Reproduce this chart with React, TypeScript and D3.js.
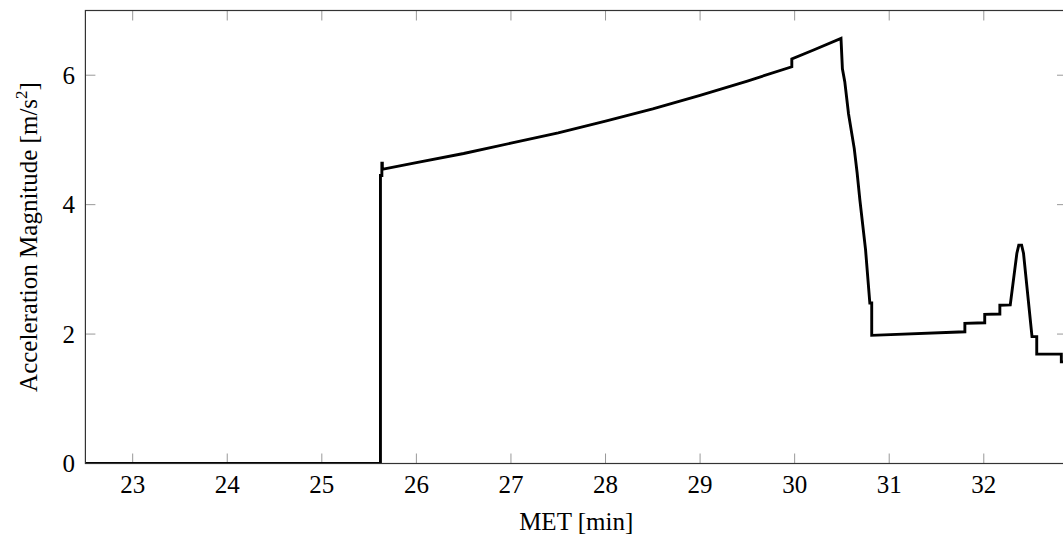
import React from "react";
import * as d3 from "d3";

const xTicks = [23, 24, 25, 26, 27, 28, 29, 30, 31, 32];
const yTicks = [0, 2, 4, 6];

// MET [min]
const met = [
  22.5, 25.62, 25.62, 25.635, 25.635, 25.64, 25.64,
  25.65, 26.0, 26.5, 27.0, 27.5, 28.0, 28.5, 29.0, 29.5, 29.97,
  29.97, 30.2, 30.49,
  30.505, 30.53, 30.57, 30.63, 30.66, 30.69, 30.75, 30.795, 30.815, 30.815,
  31.8, 31.8, 32.01, 32.01, 32.17, 32.17, 32.28,
  32.35, 32.37, 32.4, 32.42, 32.51, 32.56, 32.56, 32.82, 32.82, 32.95,
];
// Acceleration magnitude [m/s^2]
const accel = [
  0, 0, 4.45, 4.45, 4.64, 4.64, 4.55,
  4.55, 4.65, 4.79, 4.95, 5.11, 5.29, 5.48, 5.69, 5.91, 6.13,
  6.25, 6.39, 6.57,
  6.1, 5.9, 5.4, 4.87, 4.5, 4.07, 3.3, 2.48, 2.48, 1.98,
  2.035, 2.165, 2.175, 2.305, 2.31, 2.445, 2.45,
  3.25, 3.375, 3.375, 3.25, 1.96, 1.96, 1.69, 1.69, 1.57, 1.57,
];

const W = 1063;
const H = 541;
const left = 85.4;
const right = 1067;
const top = 10.5;
const bottom = 463.5;
const tickLen = 10;
const font = '"Liberation Serif", "DejaVu Serif", "Times New Roman", Times, serif';
const txt: React.CSSProperties = { fontFamily: font, fontSize: "25px" };

export default function App() {
  const x = d3.scaleLinear().domain([22.5, 32.88]).range([left, right]);
  const y = d3.scaleLinear().domain([0, 7]).range([bottom, top]);
  const pts: [number, number][] = met.map((m, i) => [m, accel[i]]);
  const line = d3
    .line<[number, number]>()
    .x((d) => x(d[0]))
    .y((d) => y(d[1]));

  return (
    <svg
      width={W}
      height={H}
      style={{ position: "absolute", left: 0, top: 0, background: "#fff" }}
    >
      <defs>
        <clipPath id="plot">
          <rect x={left} y={top} width={right - left} height={bottom - top} />
        </clipPath>
      </defs>
      {xTicks.map((t) => (
        <g key={"x" + t}>
          <line x1={x(t)} x2={x(t)} y1={bottom} y2={bottom - tickLen} stroke="#999" strokeWidth={1} />
          <line x1={x(t)} x2={x(t)} y1={top} y2={top + tickLen} stroke="#999" strokeWidth={1} />
          <text x={x(t)} y={493} textAnchor="middle" style={txt} fill="#000">
            {t}
          </text>
        </g>
      ))}
      {yTicks.map((t) => (
        <g key={"y" + t}>
          <line x1={left} x2={left + tickLen} y1={y(t)} y2={y(t)} stroke="#999" strokeWidth={1} />
          <line x1={right} x2={right - tickLen} y1={y(t)} y2={y(t)} stroke="#999" strokeWidth={1} />
          <text x={75} y={y(t)} dy="0.34em" textAnchor="end" style={txt} fill="#000">
            {t}
          </text>
        </g>
      ))}
      <path
        d={line(pts) || ""}
        fill="none"
        stroke="#000"
        strokeWidth={2.9}
        strokeLinejoin="miter"
        strokeMiterlimit={4}
        clipPath="url(#plot)"
      />
      <rect
        x={left}
        y={top}
        width={right - left}
        height={bottom - top}
        fill="none"
        stroke="#333"
        strokeWidth={1.2}
      />
      <text x={(left + right) / 2} y={530} textAnchor="middle" style={txt} fill="#000">
        MET [min]
      </text>
      <text
        transform={`translate(37, ${(top + bottom) / 2}) rotate(-90)`}
        textAnchor="middle"
        style={txt}
        fill="#000"
      >
        Acceleration Magnitude [m/s
        <tspan style={{ fontSize: "17px" }} dy={-10}>2</tspan>
        <tspan dy={10}>]</tspan>
      </text>
    </svg>
  );
}
